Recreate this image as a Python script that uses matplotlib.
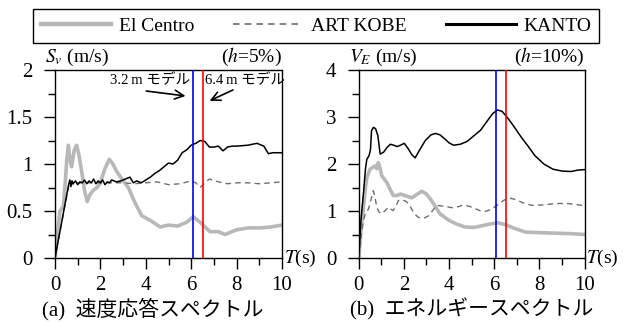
import matplotlib
matplotlib.use('Agg')
import matplotlib.pyplot as plt
from matplotlib.lines import Line2D
from matplotlib.ticker import MultipleLocator, FormatStrFormatter

plt.rcParams['font.family'] = ['Liberation Serif', 'Noto Sans CJK JP']
plt.rcParams['mathtext.fontset'] = 'stix'

# (a) velocity response spectrum Sv, h=5%
t_ec_sv = [0, 0.1, 0.22, 0.37, 0.45, 0.52, 0.59, 0.66, 0.73, 0.85, 0.95, 1.05, 1.17,
           1.3, 1.42, 1.55, 1.69, 1.85, 1.98, 2.2, 2.39, 2.55, 2.72, 2.95, 3.23,
           3.5, 3.82, 4.2, 4.63, 5.0, 5.4, 5.8, 6.09, 6.39, 6.83, 7.2, 7.49, 8.0,
           8.5, 9.03, 9.5, 10]
sv_ec = [0, 0.25, 0.5, 0.55, 0.8, 1.05, 1.2, 1.05, 0.97, 1.15, 1.2, 1.1, 0.93,
         0.72, 0.6, 0.68, 0.72, 0.75, 0.79, 0.95, 1.05, 1.0, 0.92, 0.84, 0.75,
         0.6, 0.45, 0.4, 0.33, 0.35, 0.34, 0.38, 0.44, 0.38, 0.28, 0.28, 0.25,
         0.3, 0.32, 0.32, 0.33, 0.35]

t_kobe_sv = [0, 0.6, 0.7, 0.8, 1.0, 1.5, 2.0, 2.5, 3.0, 3.5, 4.0, 4.5, 5.0, 5.5,
             6.0, 6.2, 6.4, 6.6, 6.8, 7.2, 7.6, 8.0, 8.5, 9.0, 9.5, 10]
sv_kobe = [0, 0.76, 0.82, 0.78, 0.8, 0.8, 0.8, 0.8, 0.8, 0.79, 0.8, 0.81, 0.78,
           0.79, 0.82, 0.8, 0.75, 0.8, 0.84, 0.81, 0.79, 0.8, 0.8, 0.79, 0.8, 0.81]

t_kanto_sv = [0, 0.6, 0.65, 0.7, 0.75, 0.8, 0.9, 1.0, 1.1, 1.2, 1.3, 1.4, 1.5,
              1.6, 1.7, 1.8, 1.9, 2.0, 2.1, 2.2, 2.3, 2.4, 2.5, 2.7, 2.9, 3.1,
              3.3, 3.45, 3.6, 3.8, 4.0, 4.2, 4.4, 4.6, 4.8, 5.0, 5.2, 5.4, 5.6,
              5.8, 6.0, 6.2, 6.4, 6.6, 6.8, 7.0, 7.2, 7.4, 7.6, 7.8, 8.0, 8.5,
              8.9, 9.2, 9.4, 9.6, 10]
sv_kanto = [0, 0.78, 0.83, 0.76, 0.82, 0.79, 0.82, 0.78, 0.81, 0.80, 0.83, 0.79,
            0.82, 0.80, 0.84, 0.79, 0.82, 0.80, 0.83, 0.78, 0.81, 0.80, 0.83,
            0.81, 0.82, 0.84, 0.86, 0.80, 0.82, 0.80, 0.83, 0.86, 0.90, 0.93,
            0.97, 1.01, 1.00, 1.04, 1.12, 1.15, 1.20, 1.22, 1.25, 1.24, 1.18,
            1.18, 1.19, 1.14, 1.18, 1.19, 1.19, 1.20, 1.22, 1.19, 1.11, 1.12, 1.12]

# (b) energy spectrum VE, h=10%
t_ec_ve = [0, 0.1, 0.21, 0.3, 0.36, 0.5, 0.6, 0.72, 0.8, 0.87, 0.95, 1.02, 1.24,
           1.4, 1.53, 1.7, 1.85, 2.1, 2.35, 2.6, 2.8, 3.0, 3.2, 3.6, 4.0, 4.3,
           4.7, 5.1, 5.5, 5.9, 6.15, 6.5, 6.9, 7.4, 8.0, 8.6, 9.3, 10]
ve_ec = [0, 0.55, 1.08, 1.5, 1.71, 1.89, 1.92, 1.96, 1.9, 2.03, 1.9, 1.75, 1.61,
         1.45, 1.33, 1.33, 1.36, 1.32, 1.28, 1.36, 1.42, 1.36, 1.24, 0.94, 0.8,
         0.73, 0.66, 0.65, 0.69, 0.73, 0.75, 0.71, 0.63, 0.55, 0.54, 0.53, 0.52, 0.50]

t_kobe_ve = [0, 0.1, 0.21, 0.3, 0.43, 0.55, 0.65, 0.72, 0.8, 0.9, 1.02, 1.15,
             1.31, 1.45, 1.53, 1.65, 1.75, 1.9, 2.12, 2.3, 2.42, 2.6, 2.71, 2.9,
             3.1, 3.45, 3.8, 4.12, 4.4, 4.64, 4.9, 5.16, 5.4, 5.6, 5.85, 6.12,
             6.4, 6.63, 6.9, 7.3, 7.67, 8.2, 8.71, 9.2, 9.6, 10]
ve_kobe = [0, 0.45, 0.8, 0.95, 1.04, 1.25, 1.43, 1.3, 1.08, 0.98, 0.94, 1.0,
           1.08, 1.03, 1.01, 1.1, 1.22, 1.24, 1.2, 1.08, 0.97, 0.88, 0.85, 0.85,
           0.9, 1.12, 1.1, 1.07, 1.09, 1.13, 1.1, 1.05, 1.0, 0.99, 1.03, 1.12,
           1.22, 1.28, 1.25, 1.17, 1.12, 1.13, 1.16, 1.16, 1.14, 1.11]

t_kanto_ve = [0, 0.1, 0.22, 0.3, 0.36, 0.46, 0.52, 0.57, 0.65, 0.75, 0.85, 0.95,
              1.1, 1.25, 1.4, 1.55, 1.7, 1.85, 2.02, 2.2, 2.35, 2.5, 2.7, 2.95,
              3.2, 3.4, 3.6, 3.8, 4.0, 4.2, 4.5, 4.8, 5.1, 5.4, 5.7, 5.95, 6.15,
              6.35, 6.6, 6.9, 7.2, 7.5, 7.8, 8.2, 8.6, 9.0, 9.4, 9.7, 10]
ve_kanto = [0, 0.8, 1.43, 1.9, 2.1, 2.18, 2.3, 2.71, 2.78, 2.75, 2.6, 2.21, 2.25,
            2.35, 2.42, 2.4, 2.37, 2.4, 2.44, 2.32, 2.2, 2.13, 2.3, 2.5, 2.62,
            2.65, 2.62, 2.54, 2.45, 2.4, 2.42, 2.48, 2.6, 2.72, 2.92, 3.08, 3.15,
            3.12, 2.98, 2.78, 2.57, 2.38, 2.18, 2.0, 1.89, 1.85, 1.84, 1.87, 1.88]

t_model_32 = 6.1
t_model_64 = 6.53

EC_COLOR = '#b8b8b8'
KOBE_COLOR = '#6e6e6e'

fig = plt.figure(figsize=(6.27, 3.22), dpi=100)
ax1 = fig.add_axes([55/627, 1-258/322, 227/627, 188/322])
ax2 = fig.add_axes([358.7/627, 1-258/322, 225.8/627, 188/322])


def draw_panel(ax, ec, kobe, kanto, ymax, major, label, damping, caption, cap_x):
    ax.plot(ec[0], ec[1], color=EC_COLOR, lw=2.6, solid_joinstyle='round', zorder=2)
    ax.plot(kobe[0], kobe[1], color=KOBE_COLOR, lw=1.0, ls=(0, (4, 3)), zorder=3)
    ax.plot(kanto[0], kanto[1], color='black', lw=1.1, zorder=4)
    ax.axvline(t_model_32, color='#0000ff', lw=1.2, zorder=5)
    ax.axvline(t_model_64, color='#ff0000', lw=1.2, zorder=5)
    ax.set_xlim(0, 10)
    ax.set_ylim(0, ymax)
    ax.xaxis.set_major_locator(MultipleLocator(2))
    ax.xaxis.set_minor_locator(MultipleLocator(1))
    ax.yaxis.set_major_locator(MultipleLocator(major))
    ax.yaxis.set_minor_locator(MultipleLocator(major / 2))
    ax.yaxis.set_major_formatter(FormatStrFormatter('%g'))
    ax.tick_params(which='major', direction='out', length=8, width=1, labelsize=15)
    ax.tick_params(which='minor', direction='out', length=5, width=1)
    ax.tick_params(axis='x', which='major', pad=5)
    ax.tick_params(axis='y', which='major', pad=8)
    for s in ax.spines.values():
        s.set_linewidth(1.0)
    ax.text(-0.045, 1.01, label, transform=ax.transAxes, ha='left', va='bottom', fontsize=14)
    ax.text(1.0, 1.01, damping, transform=ax.transAxes, ha='right', va='bottom', fontsize=14)
    ax.text(1.008, 0.0, r'$T$(s)', transform=ax.transAxes, ha='left', va='center', fontsize=14)
    ax.text(cap_x, -0.332, caption, transform=ax.transAxes, ha='center', va='bottom',
            fontsize=15)


draw_panel(ax1, (t_ec_sv, sv_ec), (t_kobe_sv, sv_kobe), (t_kanto_sv, sv_kanto),
           2, 0.5, r'$S_v$ (m/s)', r'($h$=5%)', '(a)  速度応答スペクトル', 0.43)
draw_panel(ax2, (t_ec_ve, ve_ec), (t_kobe_ve, ve_kobe), (t_kanto_ve, ve_kanto),
           4, 1, r'$V_E$ (m/s)', r'($h$=10%)', '(b)  エネルギースペクトル', 0.5)

ax1.annotate('', xy=(5.87, 1.72), xytext=(3.9, 1.78),
             arrowprops=dict(arrowstyle='->', lw=1.2, color='black', mutation_scale=16))
ax1.annotate('', xy=(6.7, 1.66), xytext=(7.95, 1.80),
             arrowprops=dict(arrowstyle='->', lw=1.2, color='black', mutation_scale=16))
ax1.text(5.97, 1.89, '3.2\u2009m モデル', ha='right', va='center', fontsize=10.5)
ax1.text(6.6, 1.89, '6.4\u2009m モデル', ha='left', va='center', fontsize=10.5)

handles = [Line2D([], [], color=EC_COLOR, lw=3.2),
           Line2D([], [], color=KOBE_COLOR, lw=1.2, ls=(0, (4, 3))),
           Line2D([], [], color='black', lw=2.2)]
leg = fig.legend(handles, ['El Centro', 'ART KOBE', 'KANTO'], ncol=3,
                 loc='center', mode='expand', borderaxespad=0,
                 bbox_to_anchor=(33/627, 1-43/322, 566/627, 34/322),
                 handlelength=3.6, handletextpad=0.4, fontsize=14,
                 fancybox=False, edgecolor='black', framealpha=1)
leg.get_frame().set_linewidth(1.0)

fig.savefig('out.png', dpi=100)
